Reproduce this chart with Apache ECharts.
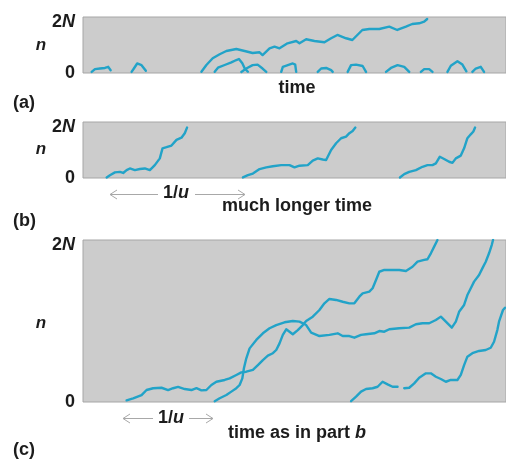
<!DOCTYPE html>
<html>
<head>
<meta charset="utf-8">
<script src="https://cdn.jsdelivr.net/npm/echarts@6/dist/echarts.min.js"></script>
<style>
html,body{margin:0;padding:0;background:#fff;}
#chart{width:506px;height:464px;}
</style>
</head>
<body>
<div id="chart"></div>
<script>
// ---- data (time in arbitrary units, n in percent of 2N) ----
const yTickLabels = ['0', '2N'];
const panelLabels = ['(a)', '(b)', '(c)'];
const axisTitles = ['time', 'much longer time', 'time as in part b'];

// panel (a): one allele that fixes, many lost early
const aFixWalk = [[118.7,2.3],[123.7,14.3],[130,26.3],[137,33.4],[143.7,39.3],[153.7,42.9],[162,39.3],[170,35.7],[177,37],[180,32.1],[187,44.1],[192,47],[197,44.1],[205,53],[213.7,57.1],[217,53],[223.7,60.2],[232,57.1],[242,54.8],[248.7,62],[255,67.9],[263.7,62],[270,58.9],[275,67.9],[280,76.8],[287,78.6],[297,78.6],[307,82.7],[315,76.8],[323.7,82.7],[330,87.5],[337,88.8],[342,91.6],[345,96.4]];
const aLostWalks = [
  [[8.7,2],[12,7],[17,8],[22,9],[25.3,11],[27.7,5]],
  [[48.7,2],[51,8],[54.3,17],[58.7,14],[63,4]],
  [[132,2.3],[135.3,9.5],[142,14.3],[148.7,19.1],[153.7,23.2],[156.3,25],[159.7,17.3],[162,8.4],[165.3,2.3]],
  [[158.7,2],[163.7,8],[170,14],[175,15],[180,8],[183.7,2]],
  [[198.7,2],[200.3,11],[205.3,14],[210.3,17],[212.7,15],[213.7,2]],
  [[235.3,2],[238.7,8],[243.7,9],[248.7,5],[250.3,2]],
  [[265.3,2],[268.7,14],[273.7,15],[280.3,12.5],[283.7,2]],
  [[303.7,2],[308.7,9],[315.3,14],[322,11],[327,2]],
  [[338.7,2],[342,7],[347,7],[350.3,2]],
  [[365.3,2],[368.7,13],[375.3,21],[380.3,15],[384.3,3]],
  [[390.3,2],[393.7,8],[398.7,11],[402,2]]
];

// panel (b): successive fixations, far apart
const bWalk1 = [[23.7,1],[27,5],[32,10],[37,11],[40.3,9],[43.7,14],[47,17],[52,14],[57,16],[62,17],[67,14],[72,23],[77,35],[79.7,53],[83.7,55],[88.7,58],[93.7,68],[98.7,72],[102,80],[104.3,90]];
const bWalk2 = [[160.3,1],[165.3,5],[170.3,8],[177,16],[183.7,19],[190.3,21],[198.7,23],[207,23],[212,19],[217,22],[225.3,23],[230.3,31],[235.3,35],[240.3,33],[243.7,32],[248.7,50],[253.7,62],[258.7,71],[263.7,74],[267,80],[270.3,84],[273,90]];
const bWalk3 = [[317.7,1],[322,7],[327,11],[333.7,14],[340.3,20],[345.3,23],[350.3,23],[353.7,26],[357.7,38],[362,34],[367,29],[370.3,27],[373.7,35],[378.7,40],[382,53],[385.3,71],[388.7,78],[391.3,83],[393,90]];

// panel (c): overlapping sweeps
const cWalk1 = [[43.7,1],[50.3,2.3],[58.7,4.3],[63.7,7.4],[70.3,8.5],[78.7,8.8],[85.3,7.4],[90.3,8.5],[95.3,9.3],[102,8],[108.7,7.4],[113.7,8.5],[118.7,7.2],[123.7,7.4],[128.7,10.5],[133.7,12.5],[142,13.6],[147,14.6],[153.7,16.7],[158.7,18.3],[163.7,18.7],[170.3,19.8],[175.3,22.8],[180.3,25.9],[185.3,28.6],[190.3,30.1],[193.7,32.1],[197,36.2],[200.3,41.4],[203.7,44.9],[207,43.4],[210.3,41.8],[215.3,44.4],[220.3,47.5],[223.7,50],[230.3,52.7],[237,56.8],[242,60.9],[247,63.6],[253.7,63],[260.3,61.9],[267,60.9],[272,60.9],[277,65],[280.3,67.1],[287,68.1],[290.3,70.2],[293.7,75.3],[297,80.4],[302,81.5],[310.3,81.5],[317,81.5],[323.7,80.9],[330.3,83.5],[335.3,86.6],[342,87.7],[345.3,88.1],[348.7,91.8],[352,95.9],[355.3,100]];
const cWalk2 = [[132,0.5],[137,2.3],[143.7,4.3],[148.7,6.4],[153.7,8.5],[157,10.5],[159.7,14.6],[161.3,20.8],[163.7,27],[167,33.1],[173.7,38.3],[180.3,42.4],[187,45.5],[193.7,47.5],[202,49.2],[210.3,50],[217,49.6],[223.7,47.5],[228.7,42.8],[237,40.7],[247,41.4],[255.3,42.4],[260.3,40.7],[267,40.7],[272,39.7],[278.7,41.4],[283.7,41.8],[292,42.4],[297,43.8],[302,43.4],[307,44.9],[317,45.5],[327,45.9],[333.7,48],[340.3,48.6],[347,48.6],[353.7,50.6],[358.7,52.7],[363.7,49.6],[369.7,45.9],[373.7,49.6],[377,55.7],[382,59.9],[385.3,66],[388.7,70.2],[392,74.3],[397,78.4],[400.3,82.5],[403.7,86.6],[407,91.8],[409.7,96.9],[411,100]];
const cWalk3Early = [[268.7,0.5],[273.7,3.3],[278.7,6.4],[283.7,8],[290.3,8.5],[295.3,9.4],[300.3,12.5],[305.3,10.9],[310.3,9.4],[315.3,9.4]];
const cWalk3Late = [[322,8.5],[327,8.8],[332,11.5],[337,15],[343.7,17.7],[348.7,17.7],[353.7,15.6],[358.7,14.2],[363.7,12.5],[368.7,13.6],[375.3,13.6],[378.7,16.7],[382,22.8],[385.3,28],[390.3,30.1],[397,31.5],[403.7,32.1],[408.7,33.5],[412,37.2],[415.3,44.4],[417,49.6],[418.7,52.7],[421,56.8],[423,58.2]];

// ---- chart ----
const FONT = 'Liberation Sans';
const LINE = '#22a3c8';
const TEXT = '#1c1c1c';
const grids = [
  {left: 83, top: 17, width: 424, height: 56},
  {left: 83, top: 122, width: 424, height: 56},
  {left: 83, top: 240, width: 424, height: 162}
];

function walk(data, idx) {
  return {
    type: 'line', xAxisIndex: idx, yAxisIndex: idx, data: data,
    symbol: 'none', showSymbol: false, silent: true, animation: false,
    lineStyle: {color: LINE, width: 2.4, cap: 'round', join: 'round'}
  };
}

const series = [walk(aFixWalk, 0)]
  .concat(aLostWalks.map(w => walk(w, 0)))
  .concat([walk(bWalk1, 1), walk(bWalk2, 1), walk(bWalk3, 1)])
  .concat([walk(cWalk1, 2), walk(cWalk2, 2), walk(cWalk3Early, 2), walk(cWalk3Late, 2)]);

const labelRich = {
  z: {fontFamily: FONT, fontWeight: 'bold', fontSize: 18, color: TEXT},
  t: {fontFamily: FONT, fontWeight: 'bold', fontSize: 18, color: TEXT, padding: [10, 0, 0, 0]},
  ti: {fontFamily: FONT, fontWeight: 'bold', fontStyle: 'italic', fontSize: 18, color: TEXT, padding: [10, 0, 0, 0]}
};

const xAxes = grids.map((g, i) => ({
  gridIndex: i, type: 'value', min: 0, max: 424, show: false
}));
const yAxes = grids.map((g, i) => ({
  gridIndex: i, type: 'value', min: 0, max: 100, interval: 100,
  axisLine: {show: false}, axisTick: {show: false}, splitLine: {show: false},
  axisLabel: {
    margin: 8,
    formatter: v => v === 0 ? '{z|' + yTickLabels[0] + '}' : '{t|2}{ti|N}',
    rich: labelRich
  }
}));

function txt(x, y, text, rich, extra) {
  return Object.assign({
    type: 'text', x: x, y: y, silent: true,
    style: Object.assign({
      text: text, align: 'center', verticalAlign: 'middle',
      font: 'bold 18px ' + FONT, fill: TEXT, rich: rich || undefined
    })
  }, extra || {});
}
const boldR = {fontFamily: FONT, fontWeight: 'bold', fontSize: 18, color: TEXT};
const boldI = {fontFamily: FONT, fontWeight: 'bold', fontStyle: 'italic', fontSize: 18, color: TEXT};

function arrow(x0, x1, y, g0, g1) {
  const st = {stroke: '#a8a8a8', lineWidth: 1, fill: null};
  return [
    {type: 'polyline', silent: true, shape: {points: [[x0, y], [g0, y]]}, style: st},
    {type: 'polyline', silent: true, shape: {points: [[g1, y], [x1, y]]}, style: st},
    {type: 'polyline', silent: true, shape: {points: [[x0 + 7, y - 4.5], [x0, y], [x0 + 7, y + 4.5]]}, style: st},
    {type: 'polyline', silent: true, shape: {points: [[x1 - 7, y - 4.5], [x1, y], [x1 - 7, y + 4.5]]}, style: st}
  ];
}

const graphics = [
  // n labels
  {type: 'text', x: 41, y: 45, silent: true, style: {text: 'n', align: 'center', verticalAlign: 'middle', font: 'italic bold 17px ' + FONT, fill: TEXT}},
  {type: 'text', x: 41, y: 149, silent: true, style: {text: 'n', align: 'center', verticalAlign: 'middle', font: 'italic bold 17px ' + FONT, fill: TEXT}},
  {type: 'text', x: 41, y: 323, silent: true, style: {text: 'n', align: 'center', verticalAlign: 'middle', font: 'italic bold 17px ' + FONT, fill: TEXT}},
  // axis titles
  txt(297, 88, axisTitles[0]),
  txt(297, 206, axisTitles[1]),
  txt(297, 433, '{r|time as in part }{i|b}', {r: boldR, i: boldI}),
  // panel labels
  {type: 'text', x: 13, y: 103, silent: true, style: {text: panelLabels[0], align: 'left', verticalAlign: 'middle', font: 'bold 18px ' + FONT, fill: TEXT}},
  {type: 'text', x: 13, y: 221, silent: true, style: {text: panelLabels[1], align: 'left', verticalAlign: 'middle', font: 'bold 18px ' + FONT, fill: TEXT}},
  {type: 'text', x: 13, y: 450, silent: true, style: {text: panelLabels[2], align: 'left', verticalAlign: 'middle', font: 'bold 18px ' + FONT, fill: TEXT}},
  // 1/u arrows
  txt(176, 193, '{r|1/}{i|u}', {r: boldR, i: boldI}),
  txt(171, 418, '{r|1/}{i|u}', {r: boldR, i: boldI})
].concat(arrow(110, 245, 194.5, 158, 195)).concat(arrow(123, 213, 418.5, 153, 189));

const chart = echarts.init(document.getElementById('chart'), null, {renderer: 'canvas'});
chart.setOption({
  animation: false,
  backgroundColor: '#ffffff',
  grid: grids.map(g => Object.assign({show: true, backgroundColor: '#cccccc', borderColor: '#a6a6a6', borderWidth: 1}, g)),
  xAxis: xAxes,
  yAxis: yAxes,
  series: series,
  graphic: graphics
});
</script>
</body>
</html>
